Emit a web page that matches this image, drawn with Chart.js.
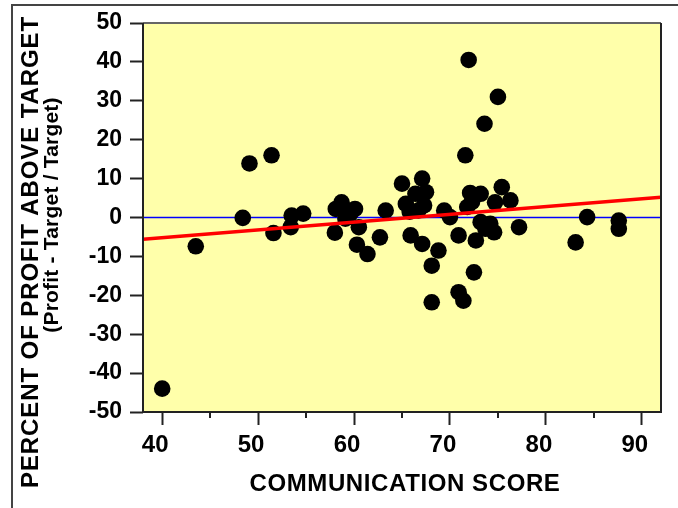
<!DOCTYPE html>
<html>
<head>
<meta charset="utf-8">
<script src="https://cdn.jsdelivr.net/npm/chart.js@4.4.1/dist/chart.umd.min.js"></script>
<style>
  html, body { margin: 0; padding: 0; background: #ffffff; }
  #wrap { width: 678px; height: 508px; position: relative; }
</style>
</head>
<body>
<div id="wrap"><canvas id="c" width="678" height="508"></canvas></div>
<script>
// ---- data ----
const commScore = [40.0, 43.5, 48.4, 49.1, 51.4, 51.6, 53.5, 54.7, 53.4,
  58.7, 58.1, 60.1, 58.0, 59.1, 60.3, 61.4, 62.7, 63.3, 60.5, 59.6,
  65.0, 67.1, 66.4, 67.5, 65.4, 67.3, 66.7, 65.8, 69.4, 70.0,
  65.9, 67.1, 68.8, 68.1, 70.9, 68.1, 70.9, 71.4, 72.5,
  71.95, 75.0, 73.6, 71.6,
  72.1, 73.2, 72.3, 71.8, 75.4, 74.7, 76.3, 72.7, 73.7, 74.6, 77.2, 73.2, 74.2,
  84.3, 83.1, 87.6, 87.6];
const profitPct = [-44.0, -7.4, -0.1, 13.9, 16.0, -4.0, 0.5, 1.0, -2.5,
  3.9, 2.2, 2.2, -3.9, -0.3, -7.0, -9.4, -5.1, 1.8, -2.5, 1.0,
  8.7, 10.0, 6.1, 6.5, 3.5, 3.1, 1.8, 1.5, 1.8, 0.1,
  -4.6, -6.8, -8.5, -12.4, -4.6, -21.8, -19.2, -21.4, -14.1,
  40.5, 31.0, 24.1, 16.0,
  6.3, 6.1, 4.0, 2.7, 7.8, 3.9, 4.4, -5.9, -2.9, -3.8, -2.5, -1.2, -1.6,
  0.1, -6.4, -0.8, -2.9];
const trendX = [38, 92];
const trendY = [-5.6, 5.2];
const zeroX = [38, 92];
const zeroY = [0, 0];
const xTicks = [40, 50, 60, 70, 80, 90];
const xMinorTicks = [45, 55, 65, 75, 85];
const yTicks = [-50, -40, -30, -20, -10, 0, 10, 20, 30, 40, 50];
const xTitle = 'COMMUNICATION SCORE';
const yTitle1 = 'PERCENT OF PROFIT ABOVE TARGET';
const yTitle2 = '(Profit - Target / Target)';

const FONT = '"Liberation Sans", Arial, Helvetica, sans-serif';

const pts = commScore.map((x, i) => ({ x: x, y: profitPct[i] }));
const trend = trendX.map((x, i) => ({ x: x, y: trendY[i] }));
const zero = zeroX.map((x, i) => ({ x: x, y: zeroY[i] }));

const decor = {
  id: 'decor',
  beforeDraw(chart) {
    const { ctx, chartArea: a } = chart;
    ctx.save();
    ctx.fillStyle = '#ffffaa';
    ctx.fillRect(a.left, a.top, a.right - a.left, a.bottom - a.top);
    ctx.restore();
  },
  afterDraw(chart) {
    const { ctx, chartArea: a, scales } = chart;
    ctx.save();
    // outer frame
    ctx.strokeStyle = '#444';
    ctx.lineWidth = 2;
    ctx.strokeRect(12, 5, 720, 560);
    // plot border
    ctx.lineWidth = 2;
    ctx.strokeStyle = '#666';
    ctx.beginPath(); ctx.moveTo(a.left, a.top); ctx.lineTo(a.right, a.top); ctx.stroke();
    ctx.strokeStyle = '#222';
    ctx.beginPath();
    ctx.moveTo(a.left, a.top); ctx.lineTo(a.left, a.bottom);
    ctx.lineTo(a.right, a.bottom); ctx.lineTo(a.right, a.top);
    ctx.stroke();
    // minor x ticks
    ctx.lineWidth = 2;
    ctx.strokeStyle = '#222';
    xMinorTicks.forEach(v => {
      const px = Math.round(scales.x.getPixelForValue(v));
      ctx.beginPath(); ctx.moveTo(px, a.bottom); ctx.lineTo(px, a.bottom + 6); ctx.stroke();
    });
    // titles
    ctx.fillStyle = '#000';
    ctx.textAlign = 'center';
    ctx.textBaseline = 'middle';
    ctx.font = 'bold 24px ' + FONT;
    ctx.letterSpacing = '0.6px';
    ctx.fillText(xTitle, 405, 484);
    ctx.save();
    ctx.translate(31, 252);
    ctx.rotate(-Math.PI / 2);
    ctx.font = 'bold 24px ' + FONT;
    ctx.letterSpacing = '0.9px';
    ctx.fillText(yTitle1, 0, 0);
    ctx.restore();
    ctx.save();
    ctx.translate(52, 215);
    ctx.rotate(-Math.PI / 2);
    ctx.font = 'bold 21px ' + FONT;
    ctx.letterSpacing = '0.2px';
    ctx.fillText(yTitle2, 0, 0);
    ctx.restore();
    ctx.restore();
  }
};

new Chart(document.getElementById('c'), {
  type: 'scatter',
  data: {
    datasets: [
      { data: zero, showLine: true, borderColor: '#0000ff', borderWidth: 1.5,
        pointRadius: 0, order: 3 },
      { data: pts, backgroundColor: '#000', borderColor: '#000', borderWidth: 0,
        pointRadius: 8.3, order: 2 },
      { data: trend, showLine: true, borderColor: '#ff0000', borderWidth: 3.5,
        pointRadius: 0, order: 1 }
    ]
  },
  options: {
    responsive: false,
    animation: false,
    events: [],
    layout: { padding: { left: 0, top: 23, right: 17, bottom: 0 } },
    plugins: { legend: { display: false }, tooltip: { enabled: false } },
    scales: {
      x: {
        type: 'linear', min: 38, max: 92,
        afterBuildTicks: s => { s.ticks = xTicks.map(v => ({ value: v })); },
        afterFit: s => { s.height = 96; },
        grid: { drawOnChartArea: false, drawTicks: true, tickLength: 13, tickWidth: 2, tickColor: '#222' },
        border: { display: false },
        ticks: { color: '#000', font: { family: FONT, weight: 'bold', size: 24 },
                 padding: 6, labelOffset: -7, maxRotation: 0 }
      },
      y: {
        type: 'linear', min: -50, max: 50,
        afterBuildTicks: s => { s.ticks = yTicks.map(v => ({ value: v })); },
        afterFit: s => { s.width = 143; },
        grid: { drawOnChartArea: false, drawTicks: true, tickLength: 13, tickWidth: 2, tickColor: '#222' },
        border: { display: false },
        ticks: { color: '#000', font: { family: FONT, weight: 'bold', size: 23 }, padding: 8 }
      }
    }
  },
  plugins: [decor]
});
</script>
</body>
</html>
